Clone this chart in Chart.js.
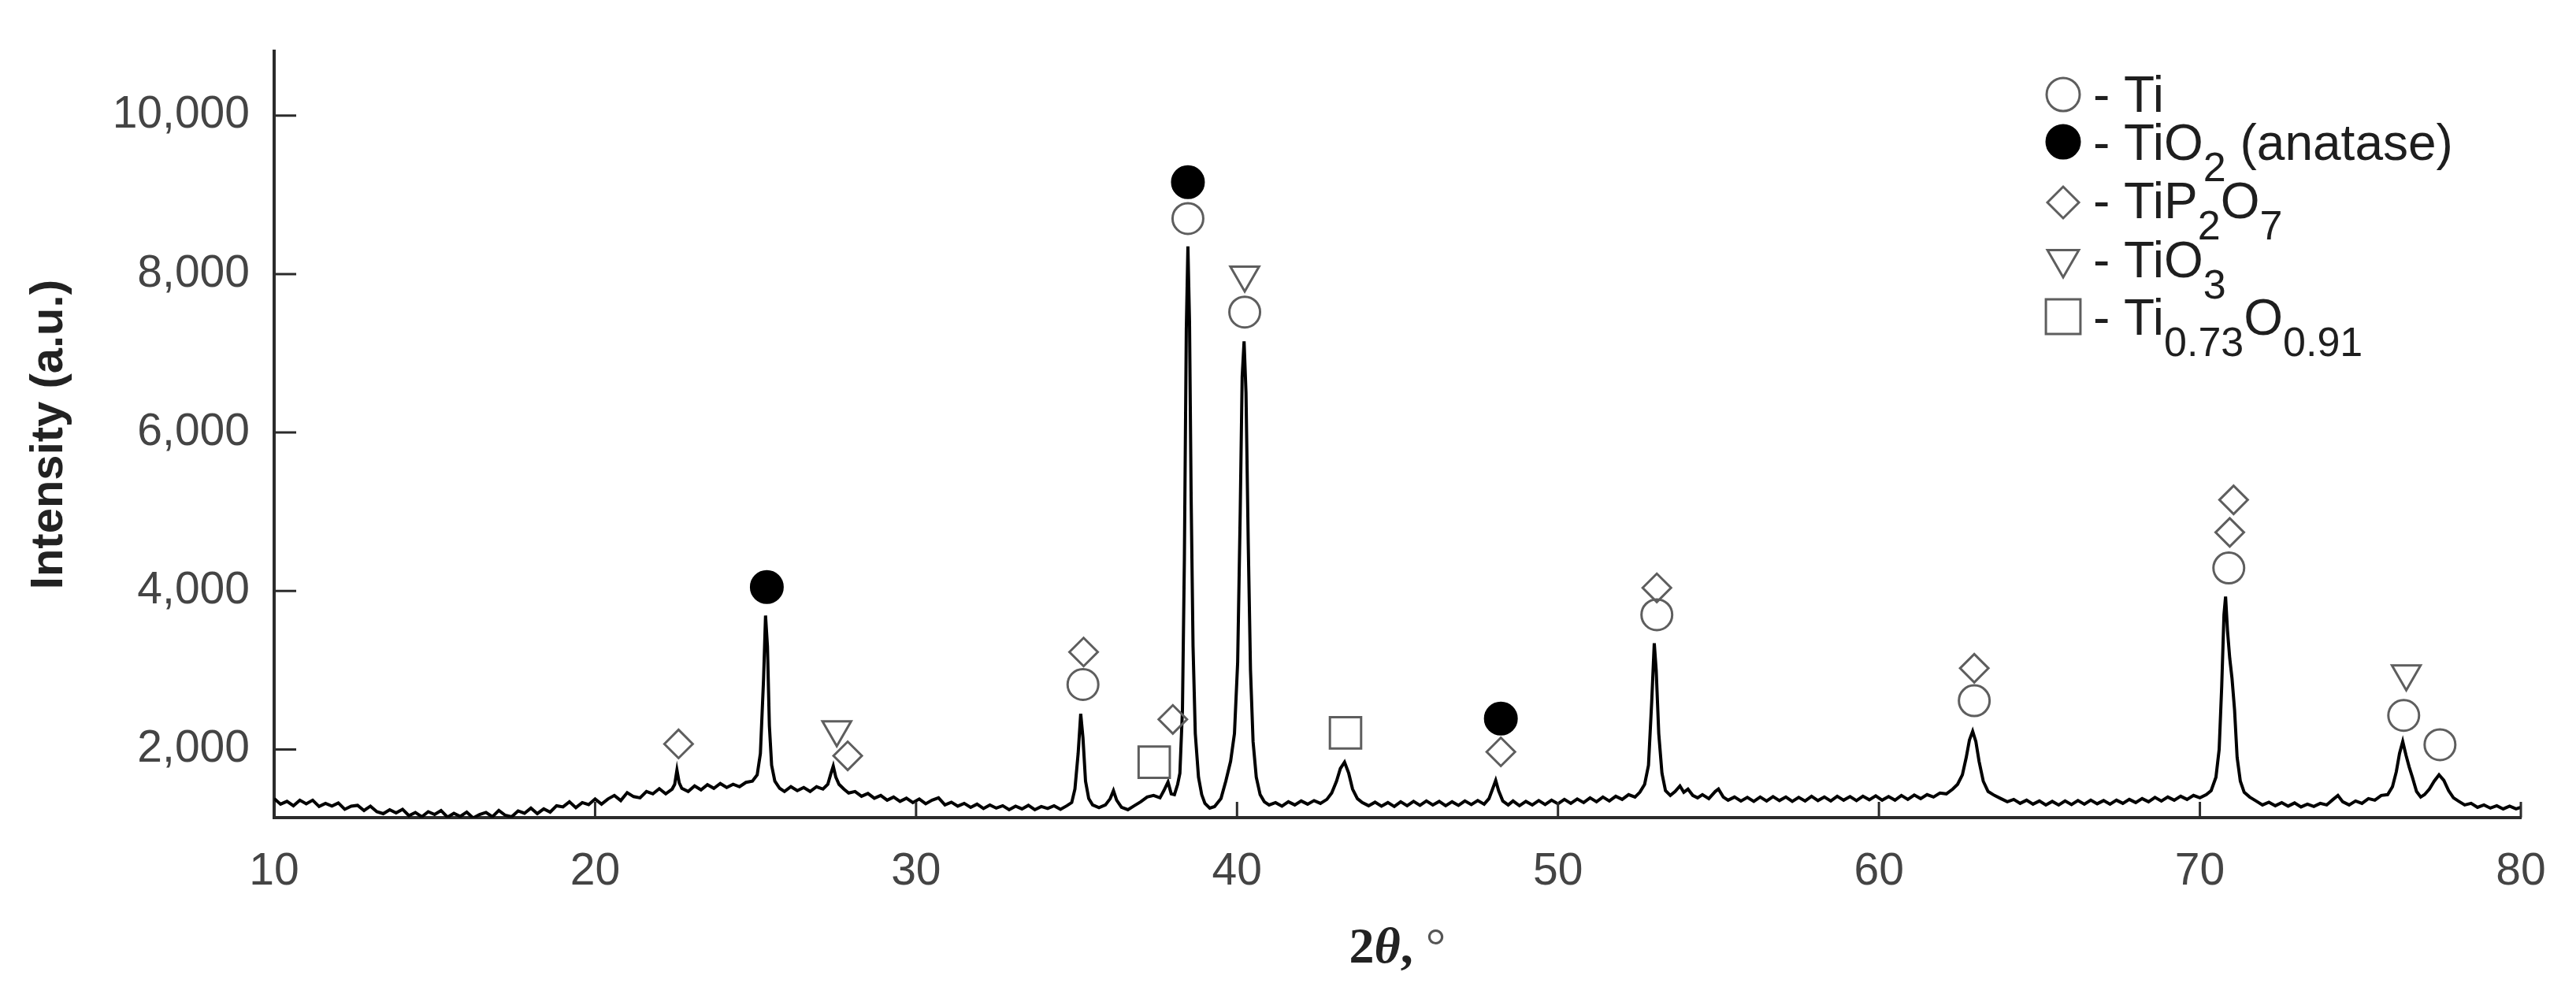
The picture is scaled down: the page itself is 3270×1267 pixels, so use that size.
<!DOCTYPE html>
<html>
<head>
<meta charset="utf-8">
<script src="https://cdn.jsdelivr.net/npm/chart.js@4.4.1/dist/chart.umd.min.js"></script>
<style>
    html, body { margin: 0; padding: 0; background: #fff; }
    #wrap { width: 3270px; height: 1267px; }
</style>
</head>
<body>
<div id="wrap"><canvas id="xrd" width="3270" height="1267"></canvas></div>
<script>
// XRD pattern (2theta in degrees, intensity in a.u.)
const twoTheta = [
    10.0, 10.2, 10.4, 10.6, 10.8, 11.0, 11.2, 11.4, 11.6, 11.8,
    12.0, 12.2, 12.4, 12.6, 12.8, 13.0, 13.2, 13.4, 13.6, 13.8,
    14.0, 14.2, 14.4, 14.6, 14.8, 15.0, 15.2, 15.4, 15.6, 15.8,
    16.0, 16.2, 16.4, 16.6, 16.8, 17.0, 17.2, 17.4, 17.6, 17.8,
    18.0, 18.2, 18.4, 18.6, 18.8, 19.0, 19.2, 19.4, 19.6, 19.8,
    20.0, 20.2, 20.4, 20.6, 20.8, 21.0, 21.2, 21.4, 21.6, 21.8,
    22.0, 22.2, 22.4, 22.48, 22.55, 22.62, 22.7, 22.9, 23.1, 23.3,
    23.5, 23.7, 23.9, 24.1, 24.3, 24.5, 24.7, 24.9, 25.05, 25.15,
    25.25, 25.31, 25.37, 25.43, 25.5, 25.6, 25.75, 25.9, 26.1, 26.3,
    26.5, 26.7, 26.9, 27.1, 27.25, 27.35, 27.42, 27.5, 27.6, 27.75,
    27.9, 28.1, 28.3, 28.5, 28.7, 28.9, 29.1, 29.3, 29.5, 29.7,
    29.9, 30.1, 30.3, 30.5, 30.7, 30.9, 31.1, 31.3, 31.5, 31.7,
    31.9, 32.1, 32.3, 32.5, 32.7, 32.9, 33.1, 33.3, 33.5, 33.7,
    33.9, 34.1, 34.3, 34.5, 34.7, 34.85, 34.95, 35.05, 35.13, 35.2,
    35.28, 35.38, 35.5, 35.7, 35.9, 36.05, 36.15, 36.25, 36.4, 36.6,
    36.8, 37.0, 37.2, 37.4, 37.6, 37.72, 37.85, 37.95, 38.05, 38.15,
    38.22, 38.3, 38.36, 38.42, 38.47, 38.52, 38.57, 38.63, 38.7, 38.8,
    38.9, 39.0, 39.15, 39.3, 39.5, 39.65, 39.8, 39.92, 40.02, 40.1,
    40.16, 40.22, 40.28, 40.35, 40.42, 40.5, 40.6, 40.72, 40.85, 41.0,
    41.2, 41.4, 41.6, 41.8, 42.0, 42.2, 42.4, 42.6, 42.8, 42.95,
    43.1, 43.22, 43.35, 43.48, 43.6, 43.75, 43.9, 44.1, 44.3, 44.5,
    44.7, 44.9, 45.1, 45.3, 45.5, 45.7, 45.9, 46.1, 46.3, 46.5,
    46.7, 46.9, 47.1, 47.3, 47.5, 47.7, 47.85, 47.98, 48.06, 48.15,
    48.28, 48.45, 48.6, 48.8, 49.0, 49.2, 49.4, 49.6, 49.8, 50.0,
    50.2, 50.4, 50.6, 50.8, 51.0, 51.2, 51.4, 51.6, 51.8, 52.0,
    52.2, 52.4, 52.55, 52.7, 52.82, 52.92, 53.0, 53.06, 53.14, 53.24,
    53.35, 53.5, 53.65, 53.8, 53.92, 54.05, 54.2, 54.35, 54.5, 54.7,
    54.9, 55.0, 55.15, 55.3, 55.5, 55.7, 55.9, 56.1, 56.3, 56.5,
    56.7, 56.9, 57.1, 57.3, 57.5, 57.7, 57.9, 58.1, 58.3, 58.5,
    58.7, 58.9, 59.1, 59.3, 59.5, 59.7, 59.9, 60.1, 60.3, 60.5,
    60.7, 60.9, 61.1, 61.3, 61.5, 61.7, 61.9, 62.1, 62.3, 62.45,
    62.6, 62.72, 62.82, 62.92, 63.02, 63.12, 63.25, 63.4, 63.6, 63.8,
    64.0, 64.2, 64.4, 64.6, 64.8, 65.0, 65.2, 65.4, 65.6, 65.8,
    66.0, 66.2, 66.4, 66.6, 66.8, 67.0, 67.2, 67.4, 67.6, 67.8,
    68.0, 68.2, 68.4, 68.6, 68.8, 69.0, 69.2, 69.4, 69.6, 69.8,
    70.0, 70.2, 70.35, 70.5, 70.6, 70.68, 70.75, 70.8, 70.86, 70.93,
    71.0, 71.08, 71.16, 71.26, 71.38, 71.55, 71.75, 71.95, 72.15, 72.35,
    72.55, 72.75, 72.95, 73.15, 73.35, 73.55, 73.75, 73.95, 74.15, 74.3,
    74.45, 74.65, 74.85, 75.05, 75.25, 75.45, 75.65, 75.85, 76.0, 76.12,
    76.22, 76.32, 76.42, 76.52, 76.62, 76.75, 76.88, 77.0, 77.15, 77.3,
    77.45, 77.6, 77.75, 77.9, 78.05, 78.25, 78.45, 78.65, 78.85, 79.05,
    79.25, 79.45, 79.65, 79.85, 80.0
];
const intensity = [
    1380, 1310, 1345, 1290, 1360, 1315, 1360, 1280, 1320, 1285,
    1325, 1245, 1285, 1295, 1230, 1285, 1215, 1190, 1240, 1200,
    1245, 1165, 1205, 1150, 1215, 1180, 1230, 1145, 1195, 1155,
    1210, 1135, 1180, 1205, 1150, 1230, 1170, 1150, 1225, 1195,
    1260, 1190, 1250, 1210, 1290, 1275, 1340, 1265, 1330, 1305,
    1375, 1310, 1375, 1420, 1355, 1455, 1405, 1390, 1470, 1440,
    1505, 1440, 1500, 1560, 1740, 1580, 1510, 1470, 1540, 1490,
    1555, 1510, 1570, 1520, 1560, 1530, 1585, 1600, 1680, 1950,
    2900, 3690, 3300, 2300, 1800, 1600, 1510, 1470, 1530, 1480,
    1520, 1470, 1530, 1500, 1560, 1700, 1790, 1650, 1560, 1500,
    1450, 1470, 1410, 1445, 1385, 1420, 1360, 1400, 1345, 1385,
    1330, 1375, 1315, 1360, 1390, 1300, 1335, 1285, 1320, 1270,
    1310, 1255, 1300, 1260, 1290, 1240, 1285, 1250, 1295, 1240,
    1280, 1255, 1290, 1245, 1290, 1330, 1500, 1950, 2450, 2150,
    1600, 1380, 1300, 1265, 1300, 1380, 1480, 1360, 1270, 1240,
    1290, 1340, 1400, 1420, 1390, 1480, 1590, 1440, 1430, 1560,
    1700, 2500, 4400, 7300, 8350, 7400, 5200, 3300, 2200, 1650,
    1430, 1320, 1260, 1280, 1380, 1600, 1850, 2200, 3100, 5000,
    6700, 7150, 6500, 4600, 3000, 2100, 1650, 1430, 1340, 1300,
    1330, 1285, 1340, 1300, 1350, 1310, 1355, 1320, 1370, 1450,
    1600, 1760, 1840, 1700, 1500, 1380, 1330, 1290, 1335, 1285,
    1330, 1280, 1340, 1290, 1345, 1295, 1350, 1300, 1345, 1290,
    1340, 1295, 1350, 1305, 1355, 1310, 1380, 1520, 1610, 1480,
    1350, 1300, 1350, 1290, 1345, 1300, 1355, 1305, 1360, 1315,
    1370, 1320, 1375, 1330, 1390, 1340, 1400, 1350, 1410, 1370,
    1430, 1400, 1460, 1560, 1800, 2600, 3340, 3000, 2200, 1700,
    1480, 1420, 1470, 1540, 1460, 1500, 1420, 1390, 1430, 1380,
    1470, 1500, 1400, 1360, 1400, 1350, 1395, 1345, 1400, 1350,
    1405, 1355, 1400, 1345, 1395, 1350, 1410, 1355, 1400, 1350,
    1410, 1360, 1405, 1355, 1410, 1365, 1415, 1360, 1405, 1360,
    1420, 1370, 1425, 1380, 1430, 1400, 1450, 1440, 1500, 1560,
    1680, 1900, 2120, 2230, 2100, 1850, 1600, 1470, 1420, 1380,
    1340, 1370, 1320, 1360, 1310, 1350, 1300, 1345, 1300, 1350,
    1305, 1355, 1310, 1360, 1315, 1355, 1310, 1360, 1320, 1370,
    1330, 1380, 1340, 1395, 1350, 1400, 1360, 1410, 1370, 1420,
    1390, 1430, 1480, 1650, 2000, 2800, 3700, 3930, 3500, 3150,
    2900, 2500, 1900, 1600, 1460, 1400, 1350, 1300, 1335, 1290,
    1330, 1285, 1325, 1275, 1310, 1280, 1320, 1300, 1370, 1420,
    1340, 1300, 1350, 1320, 1380, 1360, 1420, 1430, 1530, 1720,
    1950, 2100, 1930, 1780, 1650, 1470, 1400, 1430, 1500, 1600,
    1680, 1610, 1480, 1390, 1350, 1300, 1320, 1270, 1300, 1260,
    1290, 1250, 1285, 1250, 1270
];

// phase markers placed above the peaks
const tiX = [35.2, 38.47, 40.24, 53.08, 62.97, 70.9, 76.35, 77.48];
const tiY = [2820, 8700, 7520, 3700, 2615, 4290, 2430, 2060];
const anataseX = [25.35, 38.47, 48.22];
const anataseY = [4050, 9160, 2390];
const pyroX = [22.6, 27.87, 35.22, 38.0, 48.22, 53.08, 62.97, 70.93, 71.05];
const pyroY = [2070, 1920, 3230, 2380, 1970, 4040, 3025, 4740, 5150];
const trioxX = [27.53, 40.24, 76.43];
const trioxY = [2250, 7990, 2956];
const suboxX = [37.42, 43.38];
const suboxY = [1840, 2210];

const xTicks = [10, 20, 30, 40, 50, 60, 70, 80];
const yTicks = [2000, 4000, 6000, 8000, 10000];

// legend entries: [text, isSubscript]
const phaseNames = [
    [["- Ti", false]],
    [["- TiO", false], ["2", true], [" (anatase)", false]],
    [["- TiP", false], ["2", true], ["O", false], ["7", true]],
    [["- TiO", false], ["3", true]],
    [["- Ti", false], ["0.73", true], ["O", false], ["0.91", true]],
];

function toPoints(xs, ys) {
    return xs.map((x, i) => ({ x: x, y: ys[i] }));
}

const MARK_GREY = "#5e5e5e";

function markerSet(xs, ys, style, radius, fill, rotation) {
    return {
        type: "scatter",
        data: toPoints(xs, ys),
        pointStyle: style,
        pointRadius: radius,
        pointRotation: rotation || 0,
        pointBackgroundColor: fill,
        pointBorderColor: fill === "#000" ? "#000" : MARK_GREY,
        pointBorderWidth: 3,
        order: 0,
    };
}

const legendSymbols = [
    { style: "circle", radius: 21, fill: "rgba(0,0,0,0)", rotation: 0, cy: 120 },
    { style: "circle", radius: 21, fill: "#000", rotation: 0, cy: 180 },
    { style: "rectRot", radius: 20, fill: "rgba(0,0,0,0)", rotation: 0, cy: 257 },
    { style: "triangle", radius: 23, fill: "rgba(0,0,0,0)", rotation: 180, cy: 329 },
    { style: "rect", radius: 31, fill: "rgba(0,0,0,0)", rotation: 0, cy: 402 },
];
const legendBaselines = [142, 203, 277, 352, 425];

const decorations = {
    id: "decorations",
    afterDraw(chart) {
        const { ctx, chartArea, scales } = chart;
        ctx.save();

        // inward tick marks
        ctx.strokeStyle = "#2b2b2b";
        ctx.lineWidth = 3;
        ctx.beginPath();
        xTicks.forEach((v) => {
            const px = scales.x.getPixelForValue(v);
            ctx.moveTo(px, chartArea.bottom);
            ctx.lineTo(px, chartArea.bottom - 20);
        });
        yTicks.forEach((v) => {
            const py = scales.y.getPixelForValue(v);
            ctx.moveTo(chartArea.left, py);
            ctx.lineTo(chartArea.left + 28, py);
        });
        ctx.stroke();

        // x axis title: 2θ, °
        const pieces = [
            ["2", 'bold 64px "Liberation Serif"', "#222"],
            ["\u03b8", 'italic bold 64px "Liberation Serif"', "#222"],
            [", ", 'bold 64px "Liberation Serif"', "#222"],
            ["\u00b0", '64px "Liberation Serif"', "#555"],
        ];
        let total = 0;
        pieces.forEach((p) => {
            ctx.font = p[1];
            total += ctx.measureText(p[0]).width;
        });
        let tx = (chartArea.left + chartArea.right) / 2 - total / 2;
        const ty = chartArea.bottom + 184;
        ctx.textBaseline = "alphabetic";
        ctx.textAlign = "left";
        pieces.forEach((p) => {
            ctx.font = p[1];
            ctx.fillStyle = p[2];
            ctx.fillText(p[0], tx, ty);
            tx += ctx.measureText(p[0]).width;
        });

        // legend
        const symX = 2619;
        const textX = 2657;
        legendSymbols.forEach((s, i) => {
            ctx.fillStyle = s.fill;
            ctx.strokeStyle = s.fill === "#000" ? "#000" : MARK_GREY;
            ctx.lineWidth = 3;
            Chart.helpers.drawPoint(ctx, {
                pointStyle: s.style,
                radius: s.radius,
                rotation: s.rotation,
                borderWidth: 3,
            }, symX, s.cy);

            let x = textX;
            phaseNames[i].forEach(([txt, sub]) => {
                ctx.font = sub ? '52px "Liberation Sans"' : '64px "Liberation Sans"';
                ctx.fillStyle = "#1e1e1e";
                ctx.fillText(txt, x, legendBaselines[i] + (sub ? 27 : 0));
                x += ctx.measureText(txt).width;
            });
        });

        ctx.restore();
    },
};

new Chart(document.getElementById("xrd"), {
    type: "scatter",
    data: {
        datasets: [
            {
                type: "scatter",
                data: toPoints(twoTheta, intensity),
                showLine: true,
                borderColor: "#000",
                borderWidth: 4,
                pointRadius: 0,
                tension: 0,
                order: 1,
            },
            markerSet(tiX, tiY, "circle", 19.5, "rgba(0,0,0,0)"),
            markerSet(anataseX, anataseY, "circle", 20, "#000"),
            markerSet(pyroX, pyroY, "rectRot", 18, "rgba(0,0,0,0)"),
            markerSet(trioxX, trioxY, "triangle", 21, "rgba(0,0,0,0)", 180),
            markerSet(suboxX, suboxY, "rect", 28, "rgba(0,0,0,0)"),
        ],
    },
    options: {
        responsive: false,
        animation: false,
        devicePixelRatio: 1,
        events: [],
        layout: {
            padding: { left: 0, right: 70, top: 47, bottom: 0 },
        },
        plugins: {
            legend: { display: false },
            tooltip: { enabled: false },
        },
        scales: {
            x: {
                type: "linear",
                min: 10,
                max: 80,
                afterBuildTicks: (scale) => {
                    scale.ticks = xTicks.map((v) => ({ value: v }));
                },
                afterFit: (scale) => {
                    scale.height = 229;
                },
                grid: { display: false, drawTicks: false },
                border: { display: true, color: "#2b2b2b", width: 4 },
                ticks: {
                    padding: 35,
                    color: "#444",
                    font: { family: "Liberation Sans", size: 57 },
                },
            },
            y: {
                type: "linear",
                min: 1140,
                max: 10810,
                afterBuildTicks: (scale) => {
                    scale.ticks = yTicks.map((v) => ({ value: v }));
                },
                afterFit: (scale) => {
                    scale.width = 348;
                },
                grid: { display: false, drawTicks: false },
                border: { display: true, color: "#2b2b2b", width: 4 },
                ticks: {
                    padding: 31,
                    color: "#444",
                    font: { family: "Liberation Sans", size: 57 },
                    callback: (v) => v.toLocaleString("en-US"),
                },
                title: {
                    display: true,
                    text: "Intensity (a.u.)",
                    color: "#222",
                    font: { family: "Liberation Sans", size: 58, weight: "bold" },
                    padding: { top: 28, bottom: 0 },
                },
            },
        },
    },
    plugins: [decorations],
});
</script>
</body>
</html>
